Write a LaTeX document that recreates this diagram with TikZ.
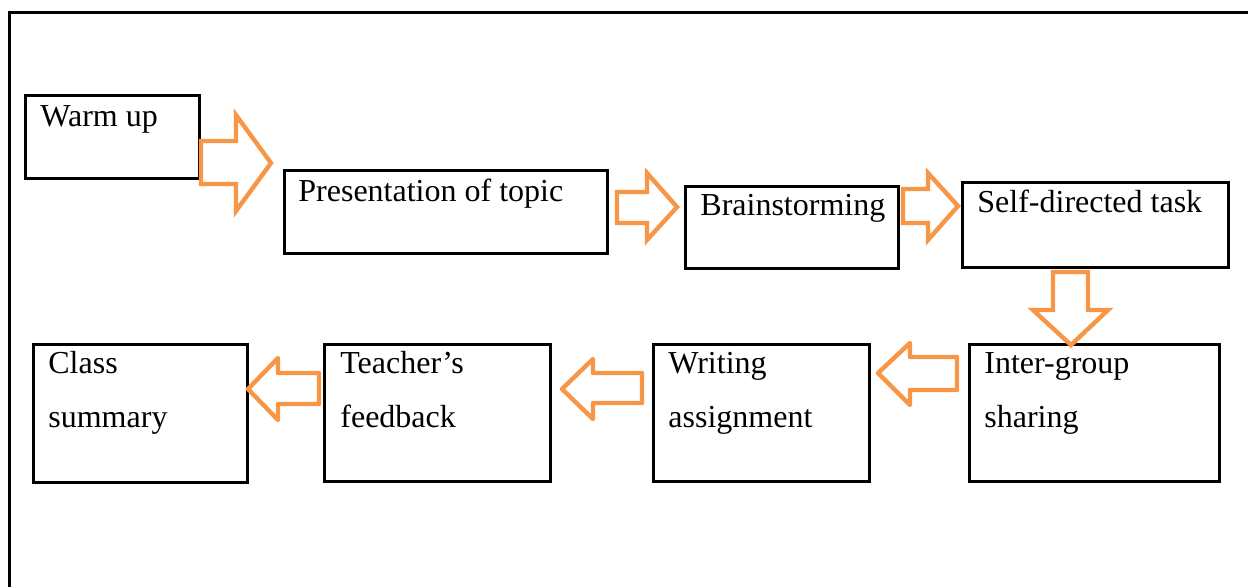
\documentclass[tikz,border=0pt]{standalone}
\usepackage{fontspec}
\setmainfont{Liberation Serif}
\definecolor{arrorange}{HTML}{F79646}
\begin{document}
\begin{tikzpicture}[x=0.5pt,y=-0.5pt,
  box/.style={draw, line width=1.5pt, inner sep=0pt, outer sep=0pt, anchor=north west},
  lbl/.style={anchor=base west, inner sep=0pt, font=\fontsize{16}{16}\selectfont},
  blockarrow/.style={draw=arrorange, line width=2.2pt, line join=miter},
  blockarrowr/.style={draw=arrorange, line width=2.2pt, line join=round}]
\useasboundingbox (0,0) rectangle (1248,586);
% outer frame (clipped at right and bottom)
\draw[line width=1.5pt] (9,620) -- (9,12) -- (1270,12);

% boxes
\node[box, minimum width=87pt, minimum height=41.5pt] (warm) at (25,95) {};
\node[box, minimum width=161.5pt, minimum height=41.5pt] (pres) at (284,170) {};
\node[box, minimum width=106.5pt, minimum height=41pt] (brain) at (685,186) {};
\node[box, minimum width=133pt, minimum height=42.5pt] (self) at (962,182) {};
\node[box, minimum width=125pt, minimum height=68.5pt] (inter) at (969,344) {};
\node[box, minimum width=108pt, minimum height=68.5pt] (writ) at (653,344) {};
\node[box, minimum width=113pt, minimum height=68.5pt] (teach) at (324,344) {};
\node[box, minimum width=107pt, minimum height=69pt] (class) at (33,344) {};

% labels
\node[lbl] (twarm) at (40,126) {Warm up};
\node[lbl] (tpres) at (298,201) {Presentation of topic};
\node[lbl] (tbrain) at (700,215) {Brainstorming};
\node[lbl] (tself) at (977,212) {Self-directed task};
\node[lbl] (tinter1) at (984,373) {Inter-group};
\node[lbl] (tinter2) at (984,427) {sharing};
\node[lbl] (twrit1) at (668,373) {Writing};
\node[lbl] (twrit2) at (668,427) {assignment};
\node[lbl] (tteach1) at (340,373) {Teacher’s};
\node[lbl] (tteach2) at (340,427) {feedback};
\node[lbl] (tclass1) at (48,373) {Class};
\node[lbl] (tclass2) at (48,427) {summary};

% block arrows, top row (pointing right)
\draw[blockarrow] (201,141) -- (236,141) -- (236,115) -- (271,163) -- (236,211) -- (236,184) -- (201,184) -- cycle;
\draw[blockarrow] (617,192) -- (647,192) -- (647,173) -- (677,207) -- (647,240) -- (647,223) -- (617,223) -- cycle;
\draw[blockarrow] (903,189) -- (928,189) -- (928,173) -- (958,206) -- (928,240) -- (928,223) -- (903,223) -- cycle;
% down arrow
\draw[blockarrow] (1053,272) -- (1088,272) -- (1088,310) -- (1108,310) -- (1071,345) -- (1033,310) -- (1053,310) -- cycle;
% bottom row (pointing left)
\draw[blockarrowr] (878,373) -- (910,343) -- (910,357) -- (957,357) -- (957,390) -- (910,390) -- (910,405) -- cycle;
\draw[blockarrowr] (562,389) -- (593,359) -- (593,373) -- (642,373) -- (642,403) -- (593,403) -- (593,419) -- cycle;
\draw[blockarrowr] (248,389) -- (278,358) -- (278,373) -- (319,373) -- (319,404) -- (278,404) -- (278,420) -- cycle;
\end{tikzpicture}
\end{document}
